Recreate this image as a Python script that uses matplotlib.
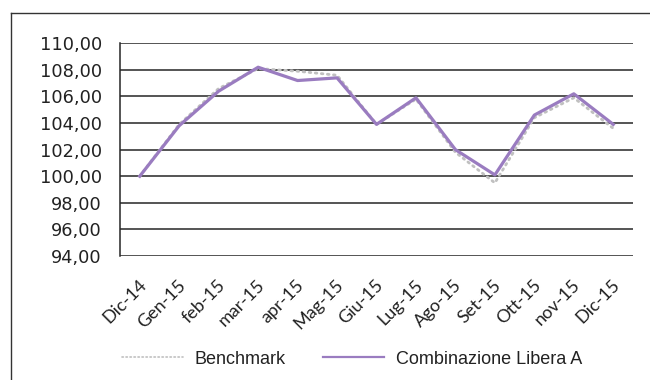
import matplotlib
matplotlib.use("Agg")
import matplotlib.pyplot as plt
from matplotlib.lines import Line2D
from matplotlib.ticker import FuncFormatter
from matplotlib.transforms import ScaledTranslation

months = ["Dic-14", "Gen-15", "feb-15", "mar-15", "apr-15", "Mag-15", "Giu-15",
          "Lug-15", "Ago-15", "Set-15", "Ott-15", "nov-15", "Dic-15"]
benchmark = [100.0, 103.9, 106.6, 108.1, 107.9, 107.6, 103.9,
             105.8, 101.8, 99.5, 104.4, 105.9, 103.6]
combinazione = [100.0, 103.8, 106.4, 108.2, 107.2, 107.4, 103.9,
                105.9, 102.0, 100.1, 104.6, 106.2, 103.9]
y_ticks = [94, 96, 98, 100, 102, 104, 106, 108, 110]

W, H = 650, 380
fig = plt.figure(figsize=(W / 100, H / 100), dpi=100)
fig.patch.set_facecolor("white")

# outer chart frame (top and left edges)
fig.add_artist(Line2D([11 / W, 1.0], [1 - 13 / H, 1 - 13 / H], transform=fig.transFigure,
                      color="#333333", lw=1.0))
fig.add_artist(Line2D([11 / W, 11 / W], [0.0, 1 - 13 / H], transform=fig.transFigure,
                      color="#333333", lw=1.0))

left, right, top, bottom = 120, 633, 43.3, 256
ax = fig.add_axes([left / W, 1 - bottom / H, (right - left) / W, (bottom - top) / H])

x = list(range(len(months)))
ax.plot(x, benchmark, color="#c0c0c0", lw=2.0, linestyle=(0, (0.6, 1.6)),
        dash_capstyle="round", label="Benchmark", zorder=3)
ax.plot(x, combinazione, color="#9a7cc0", lw=2.3, label="Combinazione Libera A", zorder=4)

ax.set_xlim(-0.5, len(months) - 0.5)
ax.set_ylim(94, 110)
ax.set_yticks(y_ticks)
ax.yaxis.set_major_formatter(FuncFormatter(lambda v, p: f"{v:.2f}".replace(".", ",")))
ax.grid(axis="y", color="#262626", lw=1.1)
ax.set_axisbelow(True)
for s in ["top", "right", "bottom"]:
    ax.spines[s].set_visible(False)
ax.spines["left"].set_color("#262626")
ax.spines["left"].set_linewidth(1.1)

ax.set_xticks(x)
ax.set_xticklabels(months, rotation=45, ha="right", va="center", rotation_mode="anchor",
                   family=["Lato", "DejaVu Sans"], fontsize=13, color="#222222")
ax.tick_params(axis="x", length=0, pad=19)
shift = ScaledTranslation(4 / 100, 0, fig.dpi_scale_trans)
for lab in ax.get_xticklabels():
    lab.set_transform(lab.get_transform() + shift)
ax.tick_params(axis="y", length=0, pad=13, labelsize=12.8, labelcolor="#222222")
for lab in ax.get_yticklabels():
    lab.set_family("DejaVu Sans")

leg = fig.legend(loc="center", bbox_to_anchor=(352 / W, 1 - 359 / H), ncol=2, frameon=False,
                 handlelength=3.4, columnspacing=2.05, handletextpad=0.66,
                 prop={"family": ["Liberation Sans", "DejaVu Sans"], "size": 13})
leg.get_lines()[0].set_linewidth(1.2)
leg.get_lines()[0].set_linestyle((0, (0.8, 1.6)))
leg.get_lines()[1].set_linewidth(1.6)
for t in leg.get_texts():
    t.set_color("#222222")

fig.savefig("out.png", dpi=100, facecolor="white")
